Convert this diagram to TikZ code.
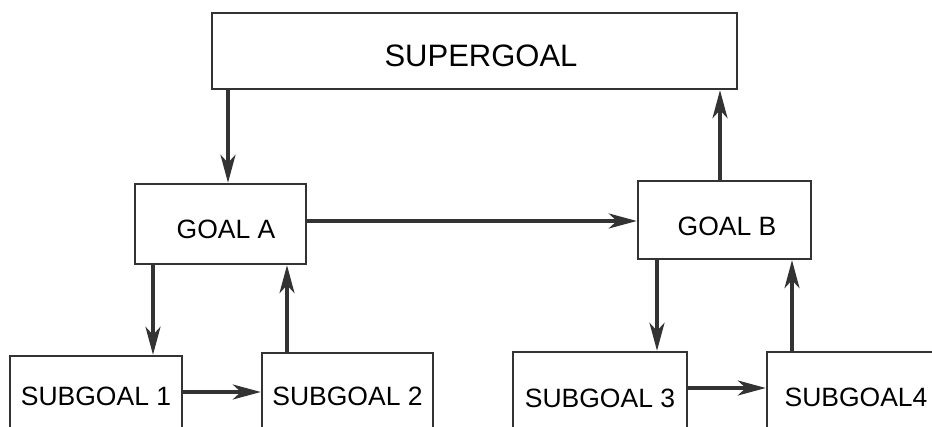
\documentclass[tikz,border=0pt]{standalone}
\usepackage{fontspec}
\setmainfont{Liberation Sans}
\usetikzlibrary{arrows.meta}
\begin{document}
\begin{tikzpicture}[x=1pt,y=-1pt,
  box/.style={draw=black!80, line width=2.4pt, inner sep=0pt, fill=white,
    font=\fontsize{26.5}{30}\selectfont},
  lab/.style={inner sep=0pt, font=\fontsize{26.5}{30}\selectfont},
  arr/.style={draw=black!80, line width=3.2pt, -{Stealth[length=28pt,width=15pt,inset=8pt]}}]
\useasboundingbox (0,0) rectangle (932,427);
\clip (0,0) rectangle (932,427);
\fill[white] (0,0) rectangle (932,427);
% boxes
\node[box, minimum width=525pt, minimum height=76pt] (super) at (474.5,51) {};
\node[lab, font=\fontsize{31}{36}\selectfont] (superl) at (481,55.5) {SUPERGOAL};
\node[box, minimum width=171pt, minimum height=80pt] (ga) at (220.5,224) {};
\node[lab] (gal) at (226,229) {GOAL A};
\node[box, minimum width=173pt, minimum height=78pt] (gb) at (724.5,220) {};
\node[lab] (gbl) at (727,226) {GOAL B};
\node[box, minimum width=172pt, minimum height=80pt] (s1) at (96,396) {SUBGOAL 1};
\node[box, minimum width=171pt, minimum height=86pt] (s2) at (347.5,396) {SUBGOAL 2};
\node[box, minimum width=174pt, minimum height=92pt] (s3) at (600,398) {SUBGOAL 3};
\node[box, minimum width=178pt, minimum height=90pt] (s4) at (856,397) {SUBGOAL4};
% guide coordinates
\coordinate (xa) at (228,0);
\coordinate (xb) at (720,0);
\coordinate (x1) at (153,0);
\coordinate (x2) at (287,0);
\coordinate (x3) at (657,0);
\coordinate (x4) at (792,0);
\coordinate (yab) at (0,221);
\coordinate (y12) at (0,392);
\coordinate (y34) at (0,388);
% connectors
\draw[arr] (super.south -| xa) -- (ga.north -| xa);
\draw[arr] (gb.north -| xb) -- (super.south -| xb);
\draw[arr] (ga.east |- yab) -- (gb.west |- yab);
\draw[arr] (ga.south -| x1) -- (s1.north -| x1);
\draw[arr] (s2.north -| x2) -- (ga.south -| x2);
\draw[arr] (s1.east |- y12) -- (s2.west |- y12);
\draw[arr] (gb.south -| x3) -- (s3.north -| x3);
\draw[arr] (s4.north -| x4) -- (gb.south -| x4);
\draw[arr] (s3.east |- y34) -- (s4.west |- y34);
\end{tikzpicture}
\end{document}
